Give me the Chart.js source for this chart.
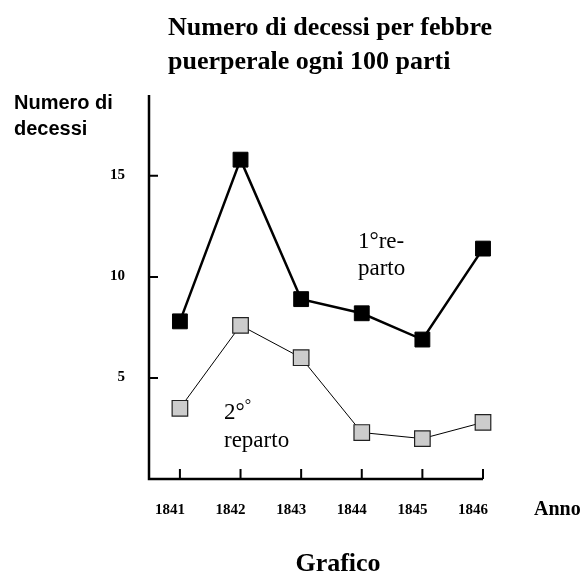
<!DOCTYPE html>
<html>
<head>
<meta charset="utf-8">
<script src="https://cdn.jsdelivr.net/npm/chart.js@4.4.1/dist/chart.umd.min.js"></script>
<style>
  body { margin: 0; background: #fff; }
  canvas { display: block; }
</style>
</head>
<body>
<canvas id="myChart" width="585" height="574"></canvas>
<script>
// data
const years = [1841, 1842, 1843, 1844, 1845, 1846];
const firstWard = [7.8, 15.8, 8.9, 8.2, 6.9, 11.4];   // 1° reparto
const secondWard = [3.5, 7.6, 6.0, 2.3, 2.0, 2.8];   // 2° reparto
const yTicks = [5, 10, 15];

const serif = '"Liberation Serif", "Times New Roman", serif';
const sans = '"Liberation Sans", Arial, sans-serif';

// axes, tick marks and all the text, drawn through the chart scales
const axesAndText = {
  id: "axesAndText",
  afterDraw(chart) {
    const ctx = chart.ctx;
    const x = chart.scales.x;
    const y = chart.scales.y;
    const left = x.getPixelForValue(x.min);
    const right = x.getPixelForValue(1846);
    const bottom = y.getPixelForValue(0);
    const top = y.getPixelForValue(y.max);

    ctx.save();
    ctx.strokeStyle = "#000";
    ctx.lineWidth = 2.5;
    ctx.beginPath();
    ctx.moveTo(left, top);
    ctx.lineTo(left, bottom);
    ctx.lineTo(right, bottom);
    ctx.stroke();

    // inward tick marks
    ctx.lineWidth = 2;
    ctx.beginPath();
    yTicks.forEach((v) => {
      const py = y.getPixelForValue(v);
      ctx.moveTo(left, py);
      ctx.lineTo(left + 9, py);
    });
    years.forEach((v) => {
      const px = x.getPixelForValue(v);
      ctx.moveTo(px, bottom);
      ctx.lineTo(px, bottom - 10);
    });
    ctx.stroke();

    ctx.fillStyle = "#000";
    ctx.font = "bold 15px " + serif;
    ctx.textAlign = "right";
    ctx.textBaseline = "middle";
    yTicks.forEach((v) => {
      ctx.fillText(String(v), left - 24, y.getPixelForValue(v) - 1);
    });
    ctx.textAlign = "center";
    ctx.textBaseline = "alphabetic";
    years.forEach((v) => {
      ctx.fillText(String(v), x.getPixelForValue(v) - 10, 514);
    });

    ctx.font = "bold 20px " + serif;
    ctx.textAlign = "left";
    ctx.fillText("Anno", 534, 515);

    ctx.font = "bold 26px " + serif;
    ctx.textAlign = "center";
    ctx.fillText("Grafico", 338, 571);

    ctx.textAlign = "left";
    ctx.fillText("Numero di decessi per febbre", 168, 35);
    ctx.fillText("puerperale ogni 100 parti", 168, 69);

    ctx.font = "bold 20px " + sans;
    ctx.fillText("Numero di", 14, 109);
    ctx.fillText("decessi", 14, 135);

    ctx.font = "23px " + serif;
    ctx.fillText("1°re-", 358, 248);
    ctx.fillText("parto", 358, 275);
    ctx.fillText("2°", 224, 419);
    const w = ctx.measureText("2°").width;
    ctx.font = "16px " + serif;
    ctx.fillText("°", 224 + w, 410);
    ctx.font = "23px " + serif;
    ctx.fillText("reparto", 224, 447);
    ctx.restore();
  },
};

const ctx = document.getElementById("myChart").getContext("2d");

new Chart(ctx, {
  type: "line",
  data: {
    datasets: [
      {
        label: "1° reparto",
        data: years.map((yr, i) => ({ x: yr, y: firstWard[i] })),
        borderColor: "#000",
        borderWidth: 2.5,
        pointStyle: "rect",
        pointRadius: 10.5,
        pointBackgroundColor: "#000",
        pointBorderColor: "#000",
        pointBorderWidth: 1,
        tension: 0,
        clip: false,
      },
      {
        label: "2° reparto",
        data: years.map((yr, i) => ({ x: yr, y: secondWard[i] })),
        borderColor: "#000",
        borderWidth: 1,
        pointStyle: "rect",
        pointRadius: 11,
        pointBackgroundColor: "#cccccc",
        pointBorderColor: "#222",
        pointBorderWidth: 1.2,
        tension: 0,
        clip: false,
      },
    ],
  },
  options: {
    responsive: false,
    animation: false,
    layout: {
      padding: { left: 149, right: 102, top: 95, bottom: 95 },
    },
    plugins: {
      legend: { display: false },
      tooltip: { enabled: false },
      title: { display: false },
    },
    scales: {
      x: { type: "linear", min: 1840.49, max: 1846, display: false },
      y: { type: "linear", min: 0, max: 19, display: false },
    },
  },
  plugins: [axesAndText],
});
</script>
</body>
</html>
